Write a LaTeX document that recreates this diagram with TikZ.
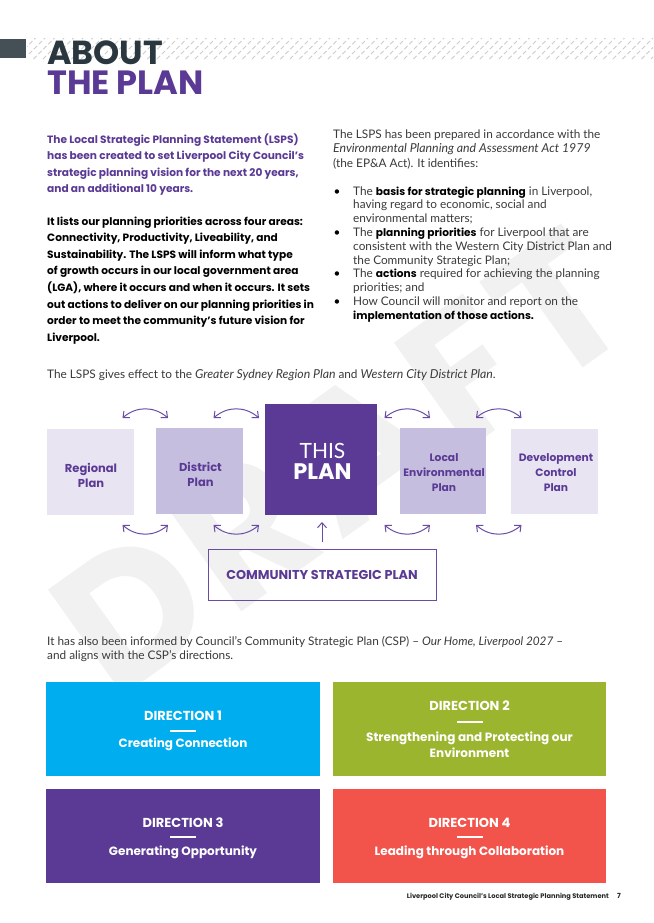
\documentclass[tikz,border=0pt]{standalone}
\usepackage{fontspec}
\usetikzlibrary{arrows.meta}
\setmainfont{Lato}
\newfontfamily\headf{Poppins}
\newfontfamily\wmf[LetterSpace=6]{Poppins}
\definecolor{purp}{HTML}{5A3A94}
\definecolor{linkp}{HTML}{6A4CA6}
\definecolor{midp}{HTML}{C5BEDF}
\definecolor{palep}{HTML}{E8E4F2}
\definecolor{body}{HTML}{3A3A3A}
\definecolor{slate}{HTML}{2B373F}
\definecolor{dirblue}{HTML}{00AEEF}
\definecolor{dirgreen}{HTML}{9BB52F}
\definecolor{dirred}{HTML}{F2544B}
\tikzset{x=1pt,y=-1pt,
 txt/.style={anchor=base west,inner sep=0pt,font=\fontsize{11.8}{14}\selectfont,text=body},
 lead/.style={anchor=base west,inner sep=0pt,font=\headf\bfseries\fontsize{10.6}{14}\selectfont,text=purp},
 blk/.style={anchor=base west,inner sep=0pt,font=\headf\bfseries\fontsize{10.6}{14}\selectfont,text=black},
 plan/.style={inner sep=0pt,align=center,font=\headf\bfseries\fontsize{11.5}{15}\selectfont,text=purp},
 dir/.style={draw=none,inner sep=0pt},
 dtitle/.style={inner sep=0pt,font=\headf\bfseries\fontsize{13}{15}\selectfont,text=white},
 dsub/.style={inner sep=0pt,align=center,font=\headf\bfseries\fontsize{12}{16}\selectfont,text=white},
 link/.style={draw=linkp,line width=1pt,{Straight Barb[length=5pt,width=9pt]}-{Straight Barb[length=5pt,width=9pt]}},
}
\newcommand{\bb}[1]{{\headf\bfseries\fontsize{10.6}{14}\selectfont\color{black}#1}}
\newcommand{\ii}[1]{{\itshape\fontsize{12.3}{14}\selectfont #1}}
\begin{document}
\begin{tikzpicture}
\useasboundingbox (0,0) rectangle (653,923);
\fill[white] (0,0) rectangle (653,923);
% watermark
\node[inner sep=0pt,rotate=35.5,text=black!5.5,font=\wmf\bfseries\fontsize{185}{185}\selectfont] (wm) at (340,462) {DRAFT};
% header band
\begin{scope}
\clip (27,39) rectangle (653,60);
\foreach \i in {0,9.5,...,680}{\draw[black!20,line width=1pt,dash pattern=on 4.5pt off 2.5pt] (\i,64)--(\i+30,34);}
\end{scope}
\fill[slate!88] (0,39) rectangle (26,58);
\node[anchor=base west,inner sep=0pt,text=slate,font=\headf\bfseries\fontsize{33.3}{34}\selectfont] (t1) at (47,65) {ABOUT};
\node[anchor=base west,inner sep=0pt,text=purp,font=\headf\bfseries\fontsize{33.6}{34}\selectfont] (t2) at (47,95) {THE PLAN};
% left col
\node[lead] (a1) at (47,143) {The Local Strategic Planning Statement (LSPS)};
\node[lead] (a2) at (47,159.5) {has been created to set Liverpool City Council’s};
\node[lead] (a3) at (47,176) {strategic planning vision for the next 20 years,};
\node[lead] (a4) at (47,192) {and an additional 10 years.};
\node[blk] (b1) at (47,225) {It lists our planning priorities across four areas:};
\node[blk] (b2) at (47,241.5) {Connectivity, Productivity, Liveability, and};
\node[blk] (b3) at (47,258) {Sustainability. The LSPS will inform what type};
\node[blk] (b4) at (47,274) {of growth occurs in our local government area};
\node[blk] (b5) at (47,291) {(LGA), where it occurs and when it occurs. It sets};
\node[blk] (b6) at (47,308) {out actions to deliver on our planning priorities in};
\node[blk] (b7) at (47,324) {order to meet the community’s future vision for};
\node[blk] (b8) at (47,341) {Liverpool.};
% right col
\node[txt] (c1) at (333,139) {The LSPS has been prepared in accordance with the};
\node[txt] (c2) at (333,153) {\ii{Environmental Planning and Assessment Act 1979}};
\node[txt] (c3) at (333,167) {(the EP\&A Act). It identifies:};
\node[txt,text=black] (d0) at (333.5,195) {•};
\node[txt] (d1) at (353,195) {The \bb{basis for strategic planning} in Liverpool,};
\node[txt] (d2) at (353,208.5) {having regard to economic, social and};
\node[txt] (d3) at (353,222) {environmental matters;};
\node[txt,text=black] (e0) at (333.5,236) {•};
\node[txt] (e1) at (353,236) {The \bb{planning priorities} for Liverpool that are};
\node[txt] (e2) at (353,250) {consistent with the Western City District Plan and};
\node[txt] (e3) at (353,264) {the Community Strategic Plan;};
\node[txt,text=black] (f0) at (333.5,277) {•};
\node[txt] (f1) at (353,277) {The \bb{actions} required for achieving the planning};
\node[txt] (f2) at (353,291) {priorities; and};
\node[txt,text=black] (g0) at (333.5,305) {•};
\node[txt] (g1) at (353,305) {How Council will monitor and report on the};
\node[txt] (g2) at (353,319) {\bb{implementation of those actions.}};
\node[txt] (h1) at (47,378) {The LSPS gives effect to the \ii{Greater Sydney Region Plan} and \ii{Western City District Plan}.};
% diagram
\node[fill=palep,minimum width=86.5pt,minimum height=86pt,inner sep=0pt] (reg) at (90.25,471.5) {};
\node[plan] (regt) at (91,475.5) {Regional\\Plan};
\node[fill=midp,minimum width=87pt,minimum height=86pt,inner sep=0pt] (dis) at (199.5,471) {};
\node[plan] (dist) at (200.5,474.5) {District\\Plan};
\node[fill=purp,minimum width=112pt,minimum height=111pt,inner sep=0pt] (this) at (321,459.5) {};
\node[inner sep=0pt,align=center,text=white,font=\fontsize{21}{21}\selectfont] (this1) at (322.5,451) {THIS};
\node[inner sep=0pt,text=white,font=\headf\bfseries\fontsize{22.5}{22}\selectfont] (this2) at (322.5,472) {PLAN};
\node[fill=midp,minimum width=86pt,minimum height=86pt,inner sep=0pt] (lep) at (443,471) {};
\node[plan,font=\headf\bfseries\fontsize{10.7}{15}\selectfont] (lept) at (444,473) {Local\\Environmental\\Plan};
\node[fill=palep,minimum width=87pt,minimum height=85pt,inner sep=0pt] (dcp) at (554.5,471.5) {};
\node[plan,font=\headf\bfseries\fontsize{10.7}{15}\selectfont] (dcpt) at (556,473) {Development\\Control\\Plan};
\node[draw=linkp,line width=1pt,minimum width=228pt,minimum height=51pt,inner sep=0pt,text=purp,font=\headf\bfseries\fontsize{12.8}{15}\selectfont] (csp) at (322,574.5) {COMMUNITY STRATEGIC PLAN};
\foreach \n/\x in {a/122.5,b/213.5,c/384.5,d/476}{
 \coordinate (tl\n) at (\x,418);
 \coordinate (tr\n) at (\x+45.5,418);
 \coordinate (bl\n) at (\x,525);
 \coordinate (br\n) at (\x+45.5,525);
 \draw[link] (tl\n) .. controls (\x+14,406) and (\x+31.5,406) .. (tr\n);
 \draw[link] (bl\n) .. controls (\x+14,537) and (\x+31.5,537) .. (br\n);
}
\coordinate (up1) at (322,542);
\coordinate (up2) at (322,522);
\draw[draw=linkp,line width=1pt,-{Straight Barb[length=5pt,width=9pt]}] (up1) -- (up2);
\node[txt] (i1) at (47,645) {It has also been informed by Council’s Community Strategic Plan (CSP) – \textit{Our Home, Liverpool 2027} –};
\node[txt] (i2) at (47,659) {and aligns with the CSP’s directions.};
% directions
\node[dir,fill=dirblue,minimum width=274pt,minimum height=94pt] (d1b) at (183,729) {};
\node[dir,fill=dirgreen,minimum width=273pt,minimum height=94pt] (d2b) at (469.5,729) {};
\node[dir,fill=purp,minimum width=274pt,minimum height=94pt] (d3b) at (183,836) {};
\node[dir,fill=dirred,minimum width=273pt,minimum height=94pt] (d4b) at (469.5,836) {};
\node[dtitle] (d1t) at (183,716) {DIRECTION 1};
\fill[white] (170,729.5) rectangle (196,731.5);
\node[dsub] (d1s) at (183,744) {Creating Connection};
\node[dtitle] (d2t) at (469.5,706) {DIRECTION 2};
\fill[white] (456.5,720.5) rectangle (482.5,722.5);
\node[dsub] (d2s) at (469.5,745) {Strengthening and Protecting our\\Environment};
\node[dtitle] (d3t) at (183,823) {DIRECTION 3};
\fill[white] (170,836) rectangle (196,838);
\node[dsub] (d3s) at (183,852) {Generating Opportunity};
\node[dtitle] (d4t) at (469.5,823) {DIRECTION 4};
\fill[white] (456.5,836) rectangle (482.5,838);
\node[dsub] (d4s) at (469.5,852) {Leading through Collaboration};
% footer
\node[anchor=base east,inner sep=0pt,text=black!85,font=\headf\bfseries\fontsize{6.65}{9}\selectfont] (foot) at (609,898) {Liverpool City Council’s Local Strategic Planning Statement};
\node[anchor=base west,inner sep=0pt,text=black!85,font=\headf\bfseries\fontsize{7}{9}\selectfont] (pg) at (617,898) {7};
\end{tikzpicture}
\end{document}
